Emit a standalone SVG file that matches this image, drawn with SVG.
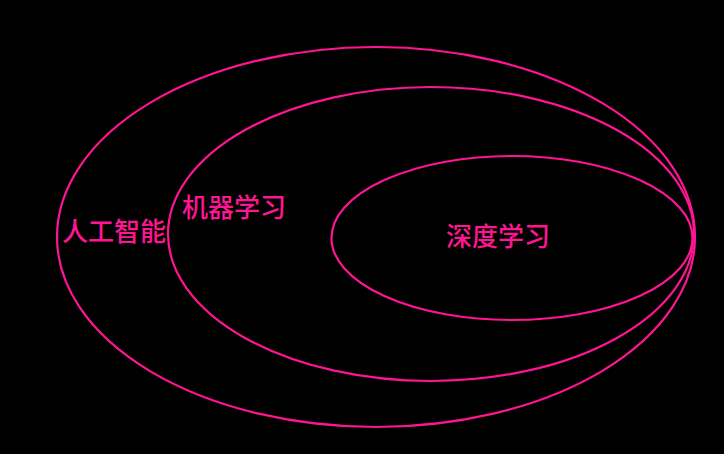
<svg xmlns="http://www.w3.org/2000/svg" width="724" height="454" viewBox="0 0 724 454">
<style>
.e{fill:none;stroke:#FF1493;stroke-width:2.2}
.t{fill:#FF1493;font-family:"Noto Sans CJK SC","Noto Sans",sans-serif;font-size:26px;font-weight:500;text-anchor:middle;dominant-baseline:central}
</style>
<rect width="724" height="454" fill="#000"/>
<g id="ai">
<ellipse class="e" cx="376" cy="237" rx="319" ry="190"/>
<text class="t" x="114" y="229">人工智能</text>
</g>
<g id="ml">
<ellipse class="e" cx="431" cy="234" rx="263" ry="147"/>
<text class="t" x="234" y="205">机器学习</text>
</g>
<g id="dl">
<ellipse class="e" cx="512" cy="238" rx="180.5" ry="82"/>
<text class="t" x="498" y="234">深度学习</text>
</g>
<g id="connectors"></g>
</svg>
